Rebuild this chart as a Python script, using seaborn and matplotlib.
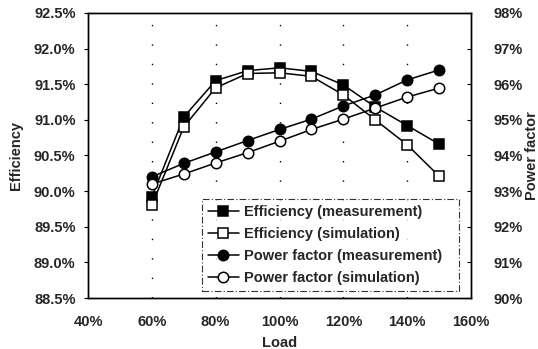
import numpy as np
import pandas as pd
import matplotlib
matplotlib.use("Agg")
import matplotlib.pyplot as plt
import seaborn as sns

# data
load = [60, 70, 80, 90, 100, 110, 120, 130, 140, 150]
eff_meas = [89.92, 91.04, 91.55, 91.69, 91.73, 91.68, 91.49, 91.18, 90.92, 90.66]
eff_sim = [89.80, 90.90, 91.45, 91.65, 91.66, 91.61, 91.35, 91.00, 90.65, 90.21]
pf_meas = [93.40, 93.78, 94.10, 94.42, 94.73, 95.02, 95.39, 95.70, 96.12, 96.40]
pf_sim = [93.20, 93.48, 93.79, 94.08, 94.40, 94.73, 95.02, 95.33, 95.64, 95.89]

sns.set_style("white")
plt.rcParams['font.family'] = ['Liberation Sans', 'DejaVu Sans']
plt.rcParams['font.weight'] = 'bold'
plt.rcParams['font.size'] = 10.5

fig = plt.figure(figsize=(5.38, 3.49), dpi=100)
ax = fig.add_axes([0.1636, 0.146, 0.7119, 0.817])
ax2 = ax.twinx()

df = pd.DataFrame({'load': load, 'eff_meas': eff_meas, 'eff_sim': eff_sim,
                   'pf_meas': pf_meas, 'pf_sim': pf_sim})

# vertical dotted grid
for x in [60, 80, 100, 120, 140]:
    ax.axvline(x, color='black', lw=1.0, ls=(0, (1, 13)), zorder=0)

kw = dict(color='black', lw=1.1, markersize=7.5, markeredgecolor='black', markeredgewidth=1.1)
sns.lineplot(data=df, x='load', y='eff_meas', ax=ax, marker='s', markerfacecolor='black',
             label='Efficiency (measurement)', legend=False, **kw)
sns.lineplot(data=df, x='load', y='eff_sim', ax=ax, marker='s', markerfacecolor='white',
             label='Efficiency (simulation)', legend=False, **kw)
sns.lineplot(data=df, x='load', y='pf_meas', ax=ax2, marker='o', markerfacecolor='black',
             label='Power factor (measurement)', legend=False, **kw)
sns.lineplot(data=df, x='load', y='pf_sim', ax=ax2, marker='o', markerfacecolor='white',
             label='Power factor (simulation)', legend=False, **kw)

ax.set_xlim(40, 160)
ax.set_ylim(88.5, 92.5)
ax2.set_ylim(90, 98)
ax.set_xticks(np.arange(40, 161, 20))
ax.set_xticklabels([f"{v}%" for v in range(40, 161, 20)])
ax.set_yticks(np.arange(88.5, 92.51, 0.5))
ax.set_yticklabels([f"{v:.1f}%" for v in np.arange(88.5, 92.51, 0.5)])
ax2.set_yticks(np.arange(90, 98.1, 1))
ax2.set_yticklabels([f"{v:.0f}%" for v in np.arange(90, 98.1, 1)])

ax.set_xlabel('Load', fontweight='bold', labelpad=5)
ax.set_ylabel('Efficiency', fontweight='bold', labelpad=8)
ax2.set_ylabel('Power factor', fontweight='bold', labelpad=2)

for a in (ax, ax2):
    for s in a.spines.values():
        s.set_color('black')
        s.set_linewidth(1.0)
ax.tick_params(axis='both', direction='out', length=3, width=0.8, color='black', pad=6)
ax.tick_params(axis='x', length=0, pad=12)
ax2.tick_params(axis='y', direction='in', length=3, width=0.8, color='black', pad=16)

h1, l1 = ax.get_legend_handles_labels()
h2, l2 = ax2.get_legend_handles_labels()
leg = ax2.legend(h1 + h2, l1 + l2, loc='lower left', bbox_to_anchor=(0.298, 0.025, 0.671, 0.31),
                 mode='expand', frameon=True, fancybox=False, handlelength=2.1,
                 handletextpad=0.4, borderpad=0.4, labelspacing=0.55, borderaxespad=0,
                 prop={'weight': 'bold', 'size': 10.5})
leg.get_frame().set_edgecolor('black')
leg.get_frame().set_linestyle((0, (6, 2, 1, 2)))
leg.get_frame().set_linewidth(0.8)

fig.savefig('out.png', dpi=100)
